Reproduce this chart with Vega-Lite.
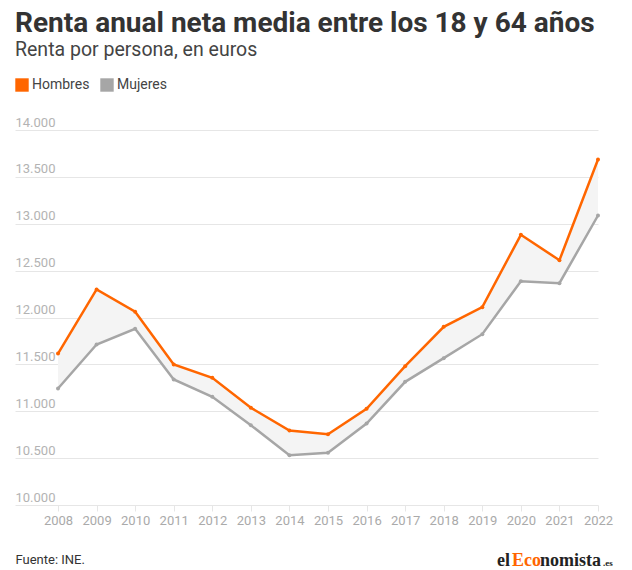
{
  "$schema": "https://vega.github.io/schema/vega-lite/v6.json",
  "width": 583,
  "height": 375,
  "autosize": {"type": "none"},
  "padding": {"left": 15, "top": 130, "right": 34, "bottom": 65},
  "background": "white",
  "data": {"values": [
    {"year": 2008, "Hombres": 11615, "Mujeres": 11243},
    {"year": 2009, "Hombres": 12299, "Mujeres": 11712},
    {"year": 2010, "Hombres": 12061, "Mujeres": 11879},
    {"year": 2011, "Hombres": 11499, "Mujeres": 11339},
    {"year": 2012, "Hombres": 11357, "Mujeres": 11154},
    {"year": 2013, "Hombres": 11037, "Mujeres": 10851},
    {"year": 2014, "Hombres": 10795, "Mujeres": 10531},
    {"year": 2015, "Hombres": 10755, "Mujeres": 10557},
    {"year": 2016, "Hombres": 11026, "Mujeres": 10869},
    {"year": 2017, "Hombres": 11481, "Mujeres": 11314},
    {"year": 2018, "Hombres": 11901, "Mujeres": 11566},
    {"year": 2019, "Hombres": 12110, "Mujeres": 11822},
    {"year": 2020, "Hombres": 12882, "Mujeres": 12387},
    {"year": 2021, "Hombres": 12611, "Mujeres": 12366},
    {"year": 2022, "Hombres": 13685, "Mujeres": 13088}
  ]},
  "title": {
    "text": "Renta anual neta media entre los 18 y 64 años",
    "subtitle": "Renta por persona, en euros",
    "anchor": "start",
    "frame": "group",
    "offset": 19,
    "font": "Roboto",
    "fontSize": 28,
    "fontWeight": "bold",
    "color": "#333333",
    "subtitleFont": "Roboto",
    "subtitleFontSize": 19.5,
    "subtitleFontWeight": "normal",
    "subtitleColor": "#444444",
    "subtitlePadding": 3
  },
  "layer": [
    {
      "mark": {"type": "area", "color": "#f4f4f4"},
      "encoding": {
        "x": {
          "field": "year", "type": "quantitative",
          "scale": {"domain": [2006.885, 2022], "nice": false, "zero": false},
          "axis": {
            "values": [2008, 2009, 2010, 2011, 2012, 2013, 2014, 2015, 2016, 2017, 2018, 2019, 2020, 2021, 2022],
            "format": "d",
            "grid": false,
            "domain": false,
            "ticks": true,
            "tickSize": 6,
            "tickColor": "#e6e6e6",
            "labelFont": "Roboto",
            "labelFontSize": 13,
            "labelColor": "#aaaaaa",
            "labelPadding": 13,
            "labelBaseline": "alphabetic",
            "labelFlush": false,
            "labelOverlap": false,
            "title": "Fuente: INE.",
            "titleFont": "Roboto",
            "titleFontSize": 13,
            "titleFontWeight": "normal",
            "titleColor": "#333333",
            "titleAnchor": "start",
            "titleAlign": "left",
            "titleBaseline": "alphabetic",
            "titleX": 0,
            "titleY": 58
          }
        },
        "y": {
          "field": "Mujeres", "type": "quantitative",
          "scale": {"domain": [10000, 14000], "nice": false, "zero": false},
          "axis": {
            "values": [10000, 10500, 11000, 11500, 12000, 12500, 13000, 13500, 14000],
            "labelExpr": "replace(format(datum.value, ','), ',', '.')",
            "grid": true,
            "gridColor": "#e6e6e6",
            "gridWidth": 1,
            "domain": false,
            "ticks": false,
            "tickSize": 0,
            "labelPadding": 0,
            "labelAlign": "left",
            "labelBaseline": "alphabetic",
            "labelOffset": -4,
            "labelFont": "Roboto",
            "labelFontSize": 13,
            "labelColor": "#b3b3b3",
            "title": null
          }
        },
        "y2": {"field": "Hombres"}
      }
    },
    {
      "transform": [{"fold": ["Hombres", "Mujeres"], "as": ["sexo", "renta"]}],
      "mark": {"type": "line", "strokeWidth": 2.5, "point": {"size": 16, "filled": true}},
      "encoding": {
        "x": {"field": "year", "type": "quantitative"},
        "y": {"field": "renta", "type": "quantitative"},
        "color": {
          "field": "sexo", "type": "nominal",
          "scale": {"domain": ["Hombres", "Mujeres"], "range": ["#ff6600", "#a6a6a6"]},
          "legend": {
            "title": null,
            "orient": "none",
            "legendX": 0,
            "legendY": -52,
            "direction": "horizontal",
            "padding": 0,
            "symbolType": "square",
            "symbolSize": 180,
            "symbolStrokeWidth": 0,
            "symbolOpacity": 1,
            "labelFont": "Roboto",
            "labelFontSize": 14,
            "labelColor": "#444444",
            "labelOffset": 3,
            "columnPadding": 10
          }
        }
      }
    },
    {
      "data": {"values": [{}]},
      "mark": {"type": "text", "text": "el", "font": "Liberation Serif", "fontWeight": "bold", "fontSize": 18, "color": "#222222", "align": "left", "baseline": "alphabetic"},
      "encoding": {"x": {"value": 482}, "y": {"value": 436}}
    },
    {
      "data": {"values": [{}]},
      "mark": {"type": "text", "text": "Eco", "font": "Liberation Serif", "fontWeight": "bold", "fontSize": 18, "color": "#ff6600", "align": "left", "baseline": "alphabetic"},
      "encoding": {"x": {"value": 497}, "y": {"value": 436}}
    },
    {
      "data": {"values": [{}]},
      "mark": {"type": "text", "text": "nomista", "font": "Liberation Serif", "fontWeight": "bold", "fontSize": 18, "color": "#222222", "align": "left", "baseline": "alphabetic"},
      "encoding": {"x": {"value": 525}, "y": {"value": 436}}
    },
    {
      "data": {"values": [{}]},
      "mark": {"type": "text", "text": ".es", "font": "Liberation Serif", "fontWeight": "bold", "fontSize": 9, "color": "#222222", "align": "left", "baseline": "alphabetic"},
      "encoding": {"x": {"value": 588}, "y": {"value": 436}}
    }
  ],
  "config": {"view": {"stroke": null}}
}
